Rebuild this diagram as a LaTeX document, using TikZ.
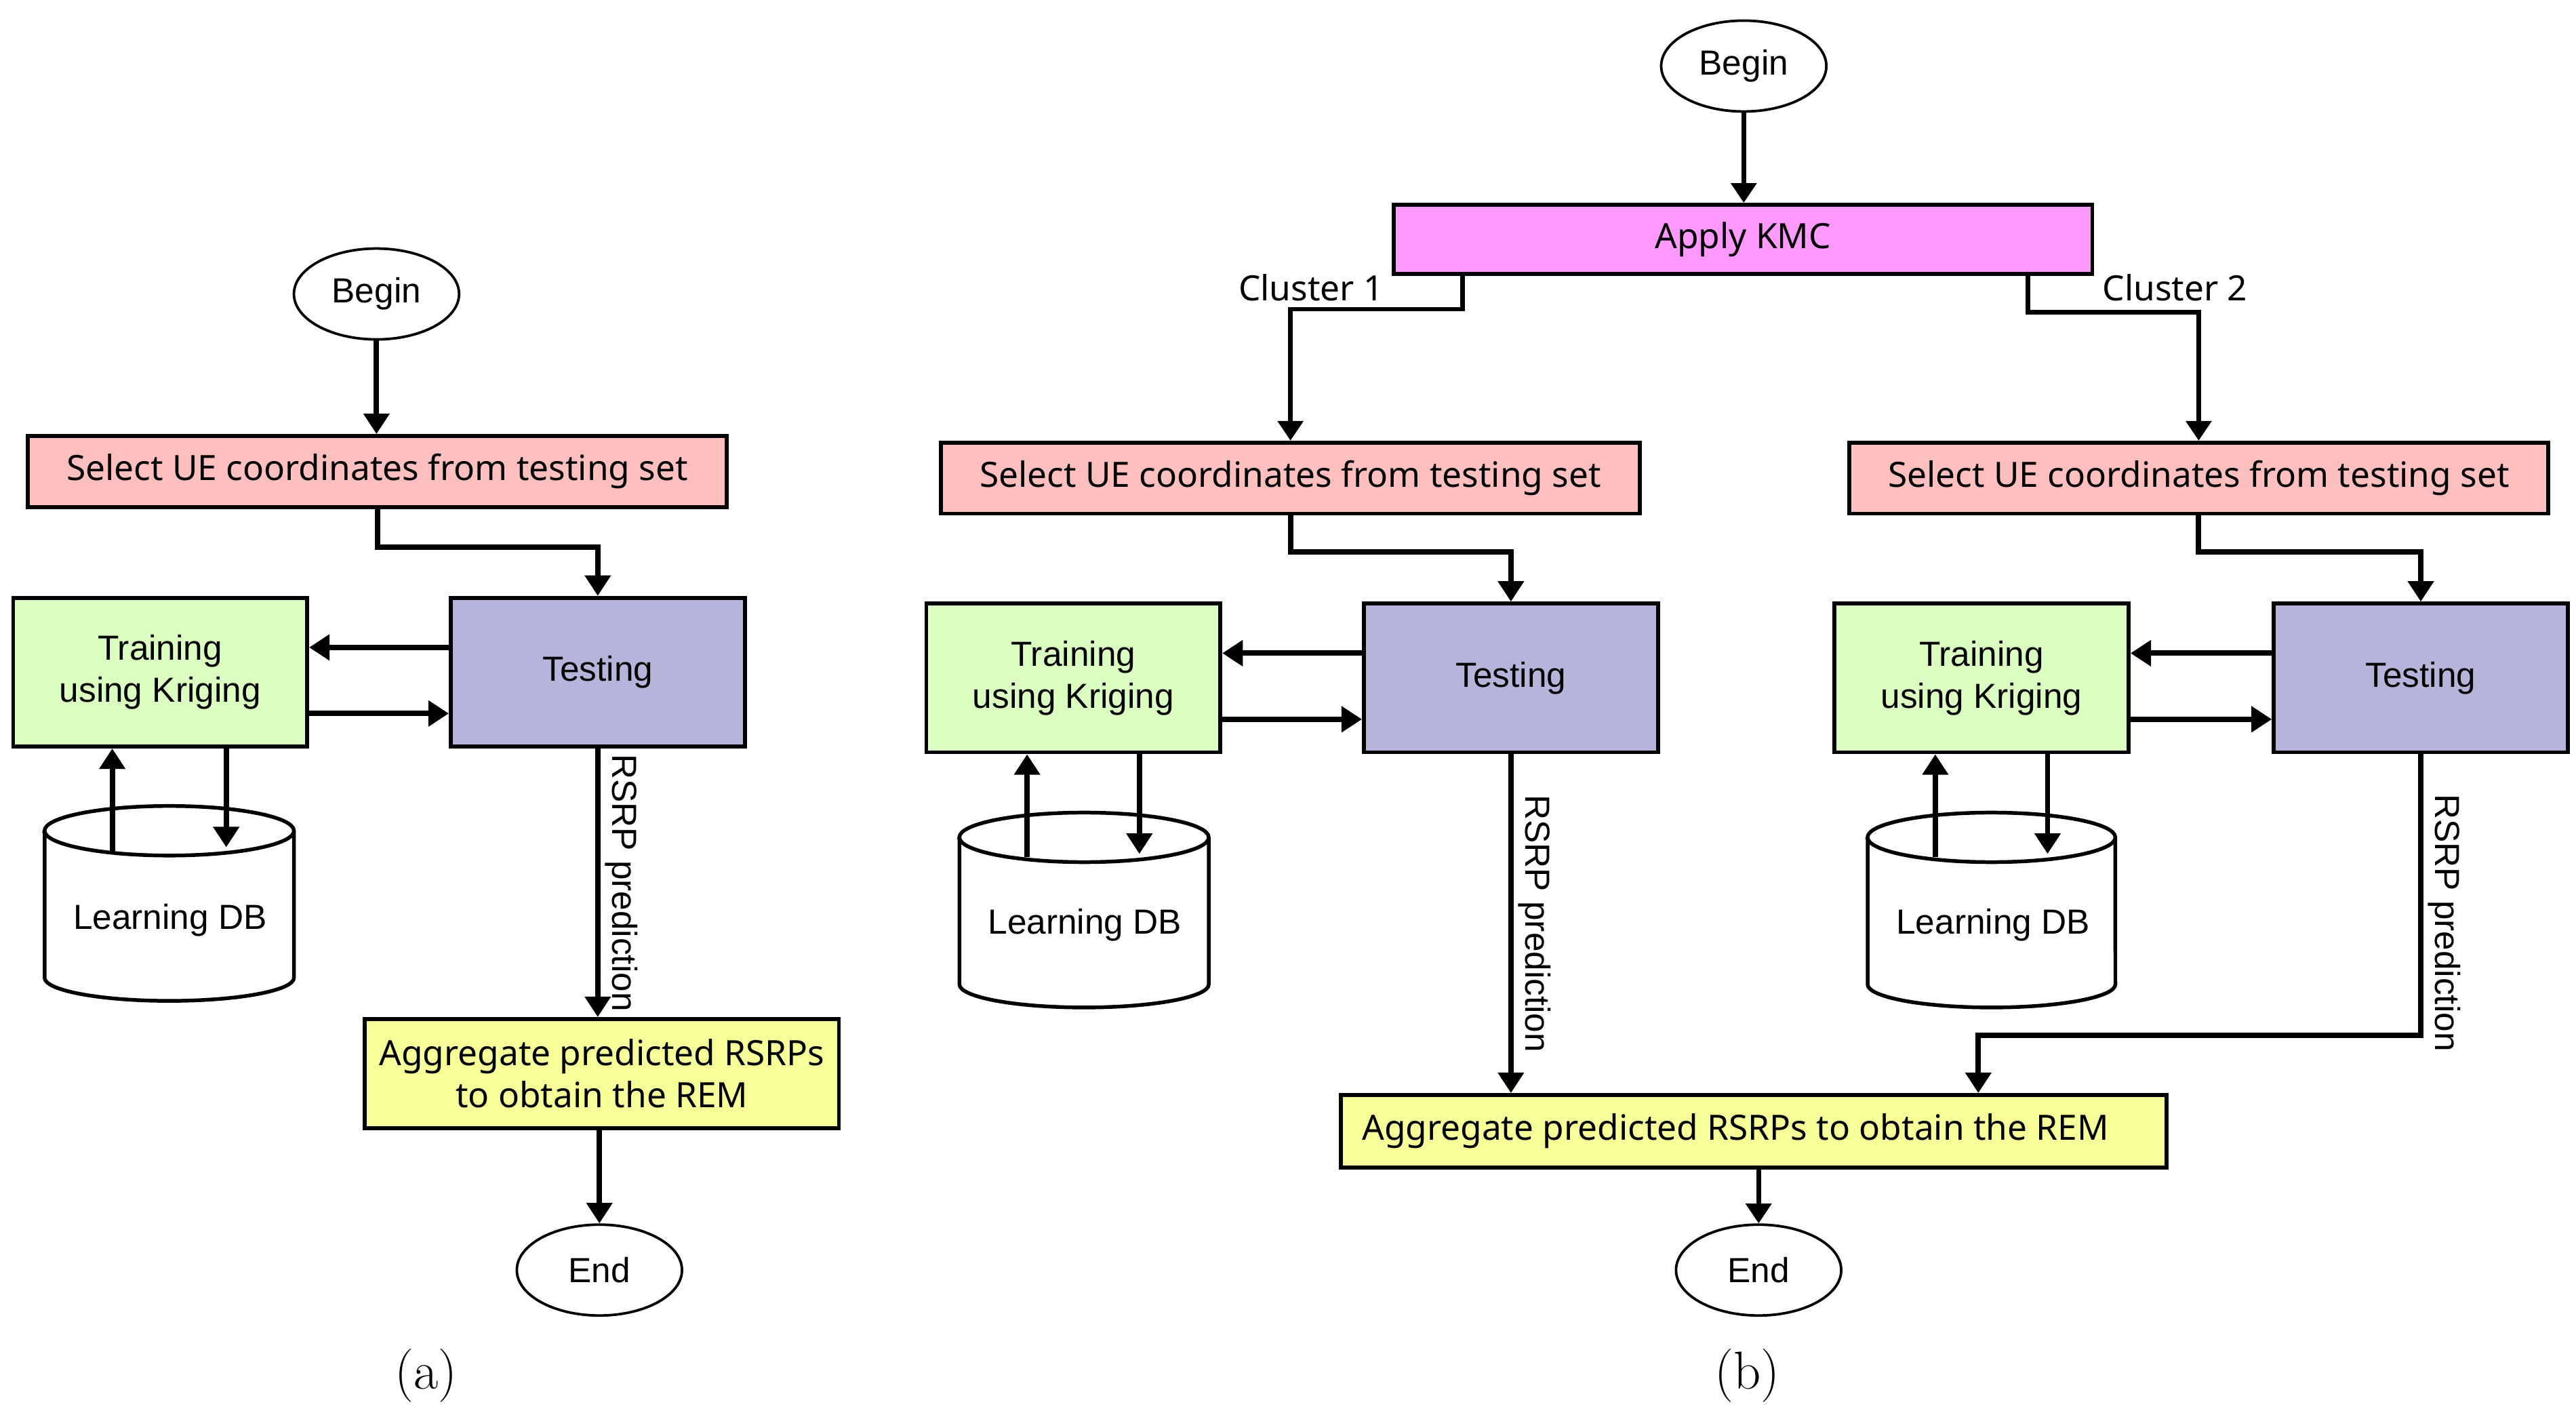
\documentclass[tikz,border=0pt]{standalone}
\usepackage{fontspec}
\newfontfamily\noto{Noto Sans}
\newfontfamily\lib{Liberation Sans}
\usetikzlibrary{arrows.meta,shapes.geometric,calc}
\definecolor{cpink}{HTML}{FFBFBF}
\definecolor{cgreen}{HTML}{DAFFC0}
\definecolor{cblue}{HTML}{B5B5DB}
\definecolor{cyellow}{HTML}{F7FF99}
\definecolor{cmag}{HTML}{FF99FF}
\tikzset{
 box/.style={draw, line width=1.7pt, inner sep=0pt, align=center, font=\noto\fontsize{15}{18}\selectfont},
 abox/.style={box, font=\lib\fontsize{15}{18}\selectfont},
 oval/.style={ellipse, draw, line width=1.1pt, minimum width=2.5cm, minimum height=1.375cm, inner sep=0pt, font=\lib\fontsize{15}{18}\selectfont},
 arr/.style={line width=2.3pt, -{Triangle[length=8.8pt,width=10.8pt]}},
 tarr/.style={line width=2.0pt, -{Triangle[length=8.5pt,width=10.8pt]}},
 cyl/.style={line width=1.6pt, fill=white},
 rl/.style={rotate=-90, anchor=south, inner sep=2pt, font=\lib\fontsize{15}{18}\selectfont},
 lbl/.style={font=\noto\fontsize{15}{18}\selectfont, inner sep=0pt},
 dbtext/.style={font=\lib\fontsize{15}{18}\selectfont, inner sep=0pt},
 figcap/.style={font=\fontsize{23}{27}\selectfont, inner sep=0pt},
}
\begin{document}
\begin{tikzpicture}[x=0.025cm,y=-0.025cm]
\useasboundingbox (0,0) rectangle (1560,855.5);

% ---------------- panel (a) ----------------
\node[oval] (beginA) at (228,178) {Begin};
\node[box, fill=cpink, minimum width=10.575cm, minimum height=1.075cm] (selA) at (228.5,285.5) {Select UE coordinates from testing set};
\node[abox, fill=cblue, minimum width=4.45cm, minimum height=2.25cm] (testA) at (362,407) {Testing};
\node[abox, fill=cgreen, minimum width=4.45cm, minimum height=2.25cm] (trainA) at (97,407) {Training\\using Kriging};
\node[box, fill=cyellow, minimum width=7.175cm, minimum height=1.65cm] (aggA) at (364.5,650) {Aggregate predicted RSRPs\\to obtain the REM};
\node[oval] (endA) at (363,769) {End};

\draw[cyl] (27,503) -- (27,592) arc[start angle=180, end angle=360, x radius=1.8875cm, y radius=0.35cm] -- (178,503) arc[start angle=0, end angle=180, x radius=1.8875cm, y radius=0.375cm] -- cycle;
\draw[cyl] (27,503) arc[start angle=180, end angle=360, x radius=1.8875cm, y radius=0.375cm];
\node[dbtext] (dbA) at (103,557) {Learning DB};

\draw[arr] (beginA.south) -- (beginA.south |- selA.north);
\draw[arr] (selA.south) -- ++(0,23) -| (testA.north);
\draw[arr] ([yshift=0.375cm]testA.west) -- ([yshift=0.375cm]trainA.east);
\draw[arr] ([yshift=-0.625cm]trainA.east) -- ([yshift=-0.625cm]testA.west);
\coordinate (uA) at (68,516);
\coordinate (dA) at (137,513);
\draw[arr] (uA) -- (uA |- trainA.south);
\draw[arr] (dA |- trainA.south) -- (dA);
\draw[arr] (testA.south) -- node[rl] {RSRP prediction} (testA.south |- aggA.north);
\draw[arr] (aggA.south -| endA.north) -- (endA.north);
\node[figcap] (capA) at (258,833) {(a)};

% ---------------- panel (b) ----------------
\node[oval] (beginB) at (1056,40) {Begin};
\node[box, fill=cmag, minimum width=10.575cm, minimum height=1.05cm] (kmc) at (1055.5,145) {Apply KMC};
\node[lbl, anchor=east] (c1) at (838,174) {Cluster 1};
\node[lbl, anchor=west] (c2) at (1273,174) {Cluster 2};

\node[box, fill=cpink, minimum width=10.575cm, minimum height=1.075cm] (selB1) at (781.5,289.5) {Select UE coordinates from testing set};
\node[box, fill=cpink, minimum width=10.575cm, minimum height=1.075cm] (selB2) at (1331.5,289.5) {Select UE coordinates from testing set};

\node[abox, fill=cgreen, minimum width=4.45cm, minimum height=2.25cm] (trainB1) at (650,410.5) {Training\\using Kriging};
\node[abox, fill=cblue, minimum width=4.45cm, minimum height=2.25cm] (testB1) at (915,410.5) {Testing};
\node[abox, fill=cgreen, minimum width=4.45cm, minimum height=2.25cm] (trainB2) at (1200,410.5) {Training\\using Kriging};
\node[abox, fill=cblue, minimum width=4.45cm, minimum height=2.25cm] (testB2) at (1466,410.5) {Testing};

\draw[cyl] (581,507) -- (581,596) arc[start angle=180, end angle=360, x radius=1.8875cm, y radius=0.35cm] -- (732,507) arc[start angle=0, end angle=180, x radius=1.8875cm, y radius=0.375cm] -- cycle;
\draw[cyl] (581,507) arc[start angle=180, end angle=360, x radius=1.8875cm, y radius=0.375cm];
\node[dbtext] (dbB1) at (657,560) {Learning DB};

\draw[cyl] (1131,507) -- (1131,596) arc[start angle=180, end angle=360, x radius=1.875cm, y radius=0.35cm] -- (1281,507) arc[start angle=0, end angle=180, x radius=1.875cm, y radius=0.375cm] -- cycle;
\draw[cyl] (1131,507) arc[start angle=180, end angle=360, x radius=1.875cm, y radius=0.375cm];
\node[dbtext] (dbB2) at (1207,560) {Learning DB};

\node[box, fill=cyellow, minimum width=12.5cm, minimum height=1.1cm] (aggB) at (1062,685) {\hspace*{-0.55cm}Aggregate predicted RSRPs to obtain the REM};
\node[oval] (endB) at (1065,769) {End};

\draw[tarr] (beginB.south) -- (beginB.south |- kmc.north);
\draw[tarr] ([xshift=1.075cm]kmc.south west) -- ++(0,20) -| (selB1.north);
\draw[tarr] ([xshift=-1.0cm]kmc.south east) -- ++(0,22) -| (selB2.north);

\draw[arr] (selB1.south) -- ++(0,22) -| (testB1.north);
\draw[arr] (selB2.south) -- ++(0,22) -| (testB2.north);
\draw[arr] ([yshift=0.375cm]testB1.west) -- ([yshift=0.375cm]trainB1.east);
\draw[arr] ([yshift=-0.625cm]trainB1.east) -- ([yshift=-0.625cm]testB1.west);
\draw[arr] ([yshift=0.375cm]testB2.west) -- ([yshift=0.375cm]trainB2.east);
\draw[arr] ([yshift=-0.625cm]trainB2.east) -- ([yshift=-0.625cm]testB2.west);

\coordinate (uB1) at (622,519);
\coordinate (dB1) at (690,517);
\coordinate (uB2) at (1172,519);
\coordinate (dB2) at (1240,517);
\draw[arr] (uB1) -- (uB1 |- trainB1.south);
\draw[arr] (dB1 |- trainB1.south) -- (dB1);
\draw[arr] (uB2) -- (uB2 |- trainB2.south);
\draw[arr] (dB2 |- trainB2.south) -- (dB2);

\draw[arr] (testB1.south) -- node[rl] {RSRP prediction} (testB1.south |- aggB.north);
\draw[arr] (testB2.south) -- node[rl, pos=0.6] {RSRP prediction} ++(0,170) -| ([xshift=3.4cm]aggB.north);
\draw[tarr] (endB.north |- aggB.south) -- (endB.north);
\node[figcap] (capB) at (1058,833) {(b)};
\end{tikzpicture}
\end{document}
